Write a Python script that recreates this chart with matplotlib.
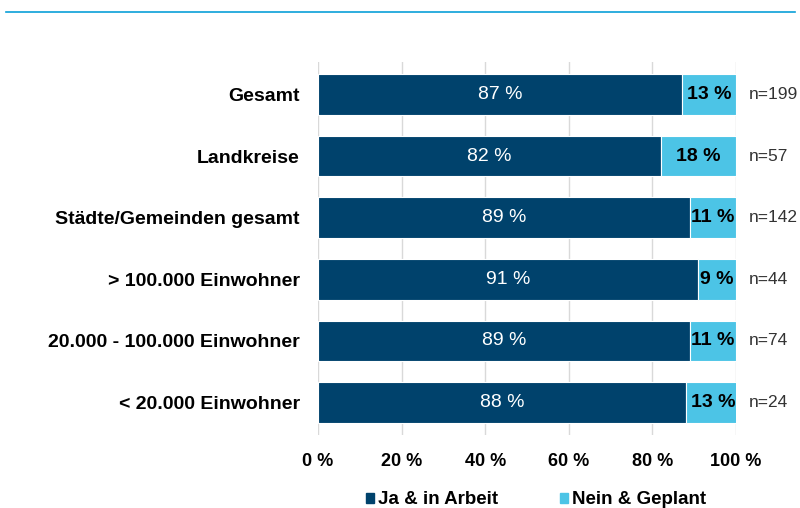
import matplotlib.pyplot as plt
from matplotlib.lines import Line2D
import numpy as np

plt.rcParams['font.family'] = ['Liberation Sans', 'DejaVu Sans']

categories = ['Gesamt', 'Landkreise', 'Städte/Gemeinden gesamt',
              '> 100.000 Einwohner', '20.000 - 100.000 Einwohner', '< 20.000 Einwohner']
ja = [87, 82, 89, 91, 89, 88]
nein = [13, 18, 11, 9, 11, 13]
n_counts = [199, 57, 142, 44, 74, 24]

dark = '#00426c'
light = '#4cc4e6'

fig = plt.figure(figsize=(8, 5.08), dpi=100)
ax = fig.add_axes([0.3975, 0.1437, 0.5225, 0.7343])

y = np.arange(len(categories))
ax.barh(y, ja, height=0.66, color=dark, edgecolor='white', linewidth=0.8, zorder=3,
        label='Ja & in Arbeit')
ax.barh(y, nein, left=ja, height=0.66, color=light, edgecolor='white', linewidth=0.8,
        zorder=3, label='Nein & Geplant')

for i in range(len(categories)):
    ax.text(ja[i] / 2, i, f'{ja[i]} %', color='white', fontsize=14,
            ha='center', va='center', zorder=4)
    ax.text(ja[i] + nein[i] / 2, i, f'{nein[i]} %', color='black', fontsize=14,
            fontweight='bold', ha='center', va='center', zorder=4)
    ax.text(103, i, f'n={n_counts[i]}', color='#333333', fontsize=12.5,
            ha='left', va='center')

ax.set_xlim(0, 100)
ax.set_ylim(len(categories) - 0.47, -0.53)
ax.set_xticks(range(0, 101, 20))
ax.set_xticklabels([f'{v} %' for v in range(0, 101, 20)], fontsize=13, fontweight='bold')
ax.set_yticks(y)
ax.set_yticklabels(categories, fontsize=14, fontweight='bold')
ax.tick_params(axis='both', length=0)
ax.tick_params(axis='y', pad=13)
ax.tick_params(axis='x', pad=13)
ax.grid(axis='x', color='#d9d9d9', linewidth=1, zorder=0)
for s in ax.spines.values():
    s.set_visible(False)

fig.legend(handles=[
    plt.Rectangle((0, 0), 1, 1, color=dark),
    plt.Rectangle((0, 0), 1, 1, color=light)],
    labels=['Ja & in Arbeit', 'Nein & Geplant'],
    loc='center', bbox_to_anchor=(0.67, 0.016), ncol=2, frameon=False,
    handlelength=0.45, handleheight=0.45, handletextpad=0.2, columnspacing=3.3,
    prop={'size': 13.5, 'weight': 'bold'})

# thin rule across the top
fig.add_artist(Line2D([0.0075, 0.994], [0.976, 0.976], color='#0a9fd8', linewidth=1.2))

fig.savefig('out.png', dpi=100)
